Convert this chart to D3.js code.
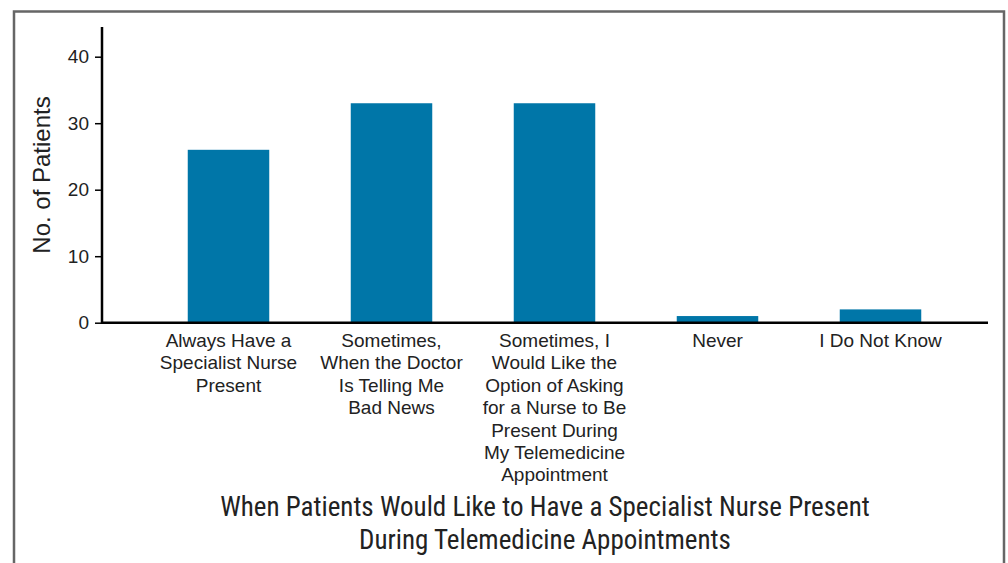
<!DOCTYPE html>
<html>
<head>
<meta charset="utf-8">
<script src="https://cdn.jsdelivr.net/npm/d3@7"></script>
<style>
  body { margin: 0; background: #fff; }
  svg { display: block; }
  .tick text { font-family: "Liberation Sans", Arial, sans-serif; font-size: 19px; fill: #222; }
</style>
</head>
<body>
<svg width="1008" height="563"></svg>
<script>
var categories = [
    ["Always Have a", "Specialist Nurse", "Present"],
    ["Sometimes,", "When the Doctor", "Is Telling Me", "Bad News"],
    ["Sometimes, I", "Would Like the", "Option of Asking", "for a Nurse to Be", "Present During", "My Telemedicine", "Appointment"],
    ["Never"],
    ["I Do Not Know"]
];
var patients = [26, 33, 33, 1, 2];
var yTicks = [0, 10, 20, 30, 40];
var yLabel = "No. of Patients";
var titleLines = ["When Patients Would Like to Have a Specialist Nurse Present",
                  "During Telemedicine Appointments"];

var svg = d3.select("svg");

// outer frame
svg.append("path")
    .attr("d", "M14,570 L14,11.5 L1004,11.5 L1004,570")
    .attr("fill", "none")
    .attr("stroke", "#666")
    .attr("stroke-width", 2.5);

var x0 = 102, x1 = 988, yTop = 27, yBase = 322.7;

var x = d3.scaleBand()
    .domain(d3.range(categories.length))
    .range([147, 962])
    .paddingInner(0.5)
    .paddingOuter(0.25);

var y = d3.scaleLinear()
    .domain([0, 40])
    .range([yBase, 56.7]);

// bars
svg.selectAll(".bar")
    .data(patients)
    .enter()
    .append("rect")
    .attr("class", "bar")
    .attr("x", (d, i) => x(i))
    .attr("width", x.bandwidth())
    .attr("y", d => y(d))
    .attr("height", d => yBase - y(d))
    .attr("fill", "#0076a8");

// y axis
var yAxis = svg.append("g")
    .attr("transform", "translate(" + x0 + ",0)")
    .call(d3.axisLeft(y).tickValues(yTicks).tickSize(7).tickPadding(6));
yAxis.select(".domain").remove();
yAxis.selectAll(".tick line").attr("stroke", "#000").attr("stroke-width", 1.5);
svg.append("line")
    .attr("x1", x0).attr("x2", x0)
    .attr("y1", yTop).attr("y2", yBase + 1)
    .attr("stroke", "#000").attr("stroke-width", 2.5);

// x baseline
svg.append("line")
    .attr("x1", x0 - 1).attr("x2", x1)
    .attr("y1", yBase).attr("y2", yBase)
    .attr("stroke", "#000").attr("stroke-width", 2.5);

// category labels
var labels = svg.selectAll(".cat")
    .data(categories)
    .enter()
    .append("text")
    .attr("class", "cat")
    .attr("text-anchor", "middle")
    .attr("font-family", "'Liberation Sans', Arial, sans-serif")
    .attr("font-size", 19)
    .attr("fill", "#222");
labels.selectAll("tspan")
    .data((d, i) => d.map(line => ({ line: line, i: i })))
    .enter()
    .append("tspan")
    .attr("x", d => x(d.i) + x.bandwidth() / 2)
    .attr("y", (d, j) => 347 + j * 22.4)
    .text(d => d.line);

// y label
svg.append("text")
    .attr("transform", "translate(50,175) rotate(-90)")
    .attr("text-anchor", "middle")
    .attr("font-family", "'Liberation Sans', Arial, sans-serif")
    .attr("font-size", 24)
    .attr("fill", "#222")
    .text(yLabel);

// x title
svg.selectAll(".title")
    .data(titleLines)
    .enter()
    .append("text")
    .attr("class", "title")
    .attr("x", 545)
    .attr("y", (d, i) => 516 + i * 33)
    .attr("text-anchor", "middle")
    .attr("font-family", "'Liberation Sans Narrow', 'Roboto Condensed', 'DejaVu Sans Condensed', sans-serif")
    .attr("font-stretch", "condensed")
    .attr("font-size", 27)
    .attr("fill", "#222")
    .text(d => d);
</script>
</body>
</html>
